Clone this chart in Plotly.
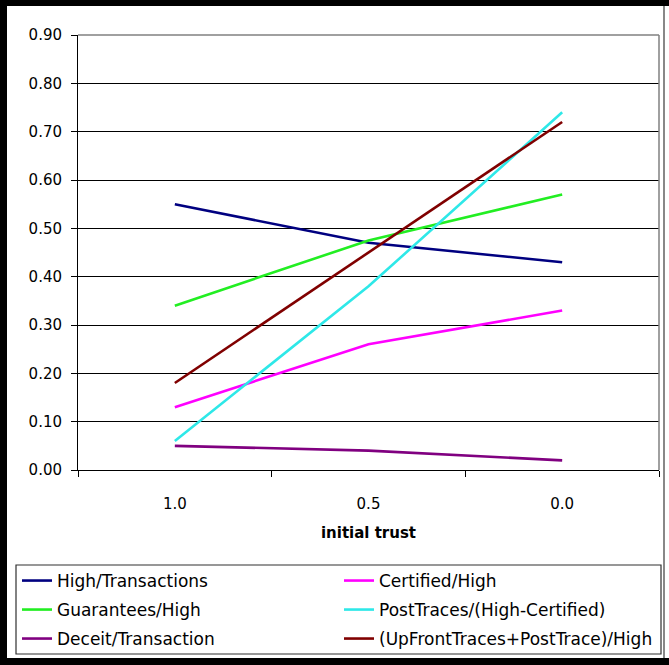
import plotly.graph_objects as go

# ---- data ----
categories = ["1.0", "0.5", "0.0"]
high_transactions = [0.55, 0.47, 0.43]
certified_high = [0.13, 0.26, 0.33]
guarantees_high = [0.34, 0.475, 0.57]
posttraces_high_certified = [0.06, 0.38, 0.74]
deceit_transaction = [0.05, 0.04, 0.02]
upfront_posttrace_high = [0.18, 0.45, 0.72]
y_tick_values = [0.0, 0.1, 0.2, 0.3, 0.4, 0.5, 0.6, 0.7, 0.8, 0.9]

series = [
    ("High/Transactions", high_transactions, "#000080", "legend"),
    ("Certified/High", certified_high, "#FF00FF", "legend2"),
    ("Guarantees/High", guarantees_high, "#22EE22", "legend3"),
    ("PostTraces/(High-Certified)", posttraces_high_certified, "#2EE8E8", "legend4"),
    ("Deceit/Transaction", deceit_transaction, "#800080", "legend5"),
    ("(UpFrontTraces+PostTrace)/High", upfront_posttrace_high, "#800000", "legend6"),
]

W, H = 669, 665
L, R, T, B = 78, 10, 35, 195
PW, PH = W - L - R, H - T - B


def px(x):
    return (x - L) / PW


def py(y):
    return (T + PH - y) / PH


FONT = "DejaVu Sans"

fig = go.Figure()
for name, vals, color, leg in series:
    fig.add_trace(go.Scatter(
        x=categories, y=vals, mode="lines", name=name,
        line=dict(color=color, width=2.6),
        legend=leg, showlegend=True,
    ))

legend_pos = {
    "legend": (17, 581), "legend2": (339, 581),
    "legend3": (17, 610), "legend4": (339, 610),
    "legend5": (17, 639), "legend6": (339, 639),
}
legend_layout = {}
for key, (lx, ly) in legend_pos.items():
    legend_layout[key] = dict(
        x=px(lx), y=py(ly), xanchor="left", yanchor="middle",
        orientation="v", bgcolor="rgba(0,0,0,0)", borderwidth=0,
        font=dict(family=FONT, size=17, color="black"),
        itemwidth=30,
    )

shapes = [
    # plot area top and right border (gray)
    dict(type="line", xref="paper", yref="paper", x0=0, x1=1, y0=1, y1=1,
         line=dict(color="#808080", width=1.5)),
    dict(type="line", xref="paper", yref="paper", x0=1, x1=1, y0=0, y1=1,
         line=dict(color="#808080", width=1.5)),
    # legend box
    dict(type="rect", xref="paper", yref="paper",
         x0=px(16), x1=px(661), y0=py(565), y1=py(654),
         line=dict(color="#303030", width=1.2), fillcolor="rgba(0,0,0,0)"),
    # outer frame
    dict(type="rect", xref="paper", yref="paper",
         x0=px(0), x1=px(7), y0=py(0), y1=py(665),
         line=dict(width=0), fillcolor="black"),
    dict(type="rect", xref="paper", yref="paper",
         x0=px(0), x1=px(669), y0=py(0), y1=py(6),
         line=dict(width=0), fillcolor="black"),
    dict(type="rect", xref="paper", yref="paper",
         x0=px(0), x1=px(669), y0=py(658), y1=py(665),
         line=dict(width=0), fillcolor="black"),
    dict(type="line", xref="paper", yref="paper",
         x0=px(664), x1=px(664), y0=py(6), y1=py(658),
         line=dict(color="#606060", width=1.5)),
]

fig.update_layout(
    width=W, height=H,
    margin=dict(l=L, r=R, t=T, b=B, autoexpand=False),
    paper_bgcolor="white", plot_bgcolor="white",
    font=dict(family=FONT, size=15, color="black"),
    showlegend=True,
    shapes=shapes,
    **legend_layout,
)

fig.update_xaxes(
    type="category", categoryorder="array", categoryarray=categories,
    range=[-0.5, 2.5], tickson="boundaries",
    ticks="outside", ticklen=6, tickwidth=1, tickcolor="black",
    showline=True, linecolor="black", linewidth=1,
    showgrid=False, zeroline=False,
    tickfont=dict(family=FONT, size=15, color="black"),
    ticklabelstandoff=20,
    title=dict(text="<b>initial trust</b>", standoff=15,
               font=dict(family=FONT, size=15, color="black")),
)
fig.update_yaxes(
    range=[0, 0.9], tickvals=y_tick_values, tickformat=".2f",
    ticks="outside", ticklen=6, tickwidth=1, tickcolor="black",
    showline=True, linecolor="black", linewidth=1,
    showgrid=True, gridcolor="black", gridwidth=1,
    zeroline=False,
    tickfont=dict(family=FONT, size=15, color="black"),
    ticklabelstandoff=6,
)

fig.write_html("out.html")
